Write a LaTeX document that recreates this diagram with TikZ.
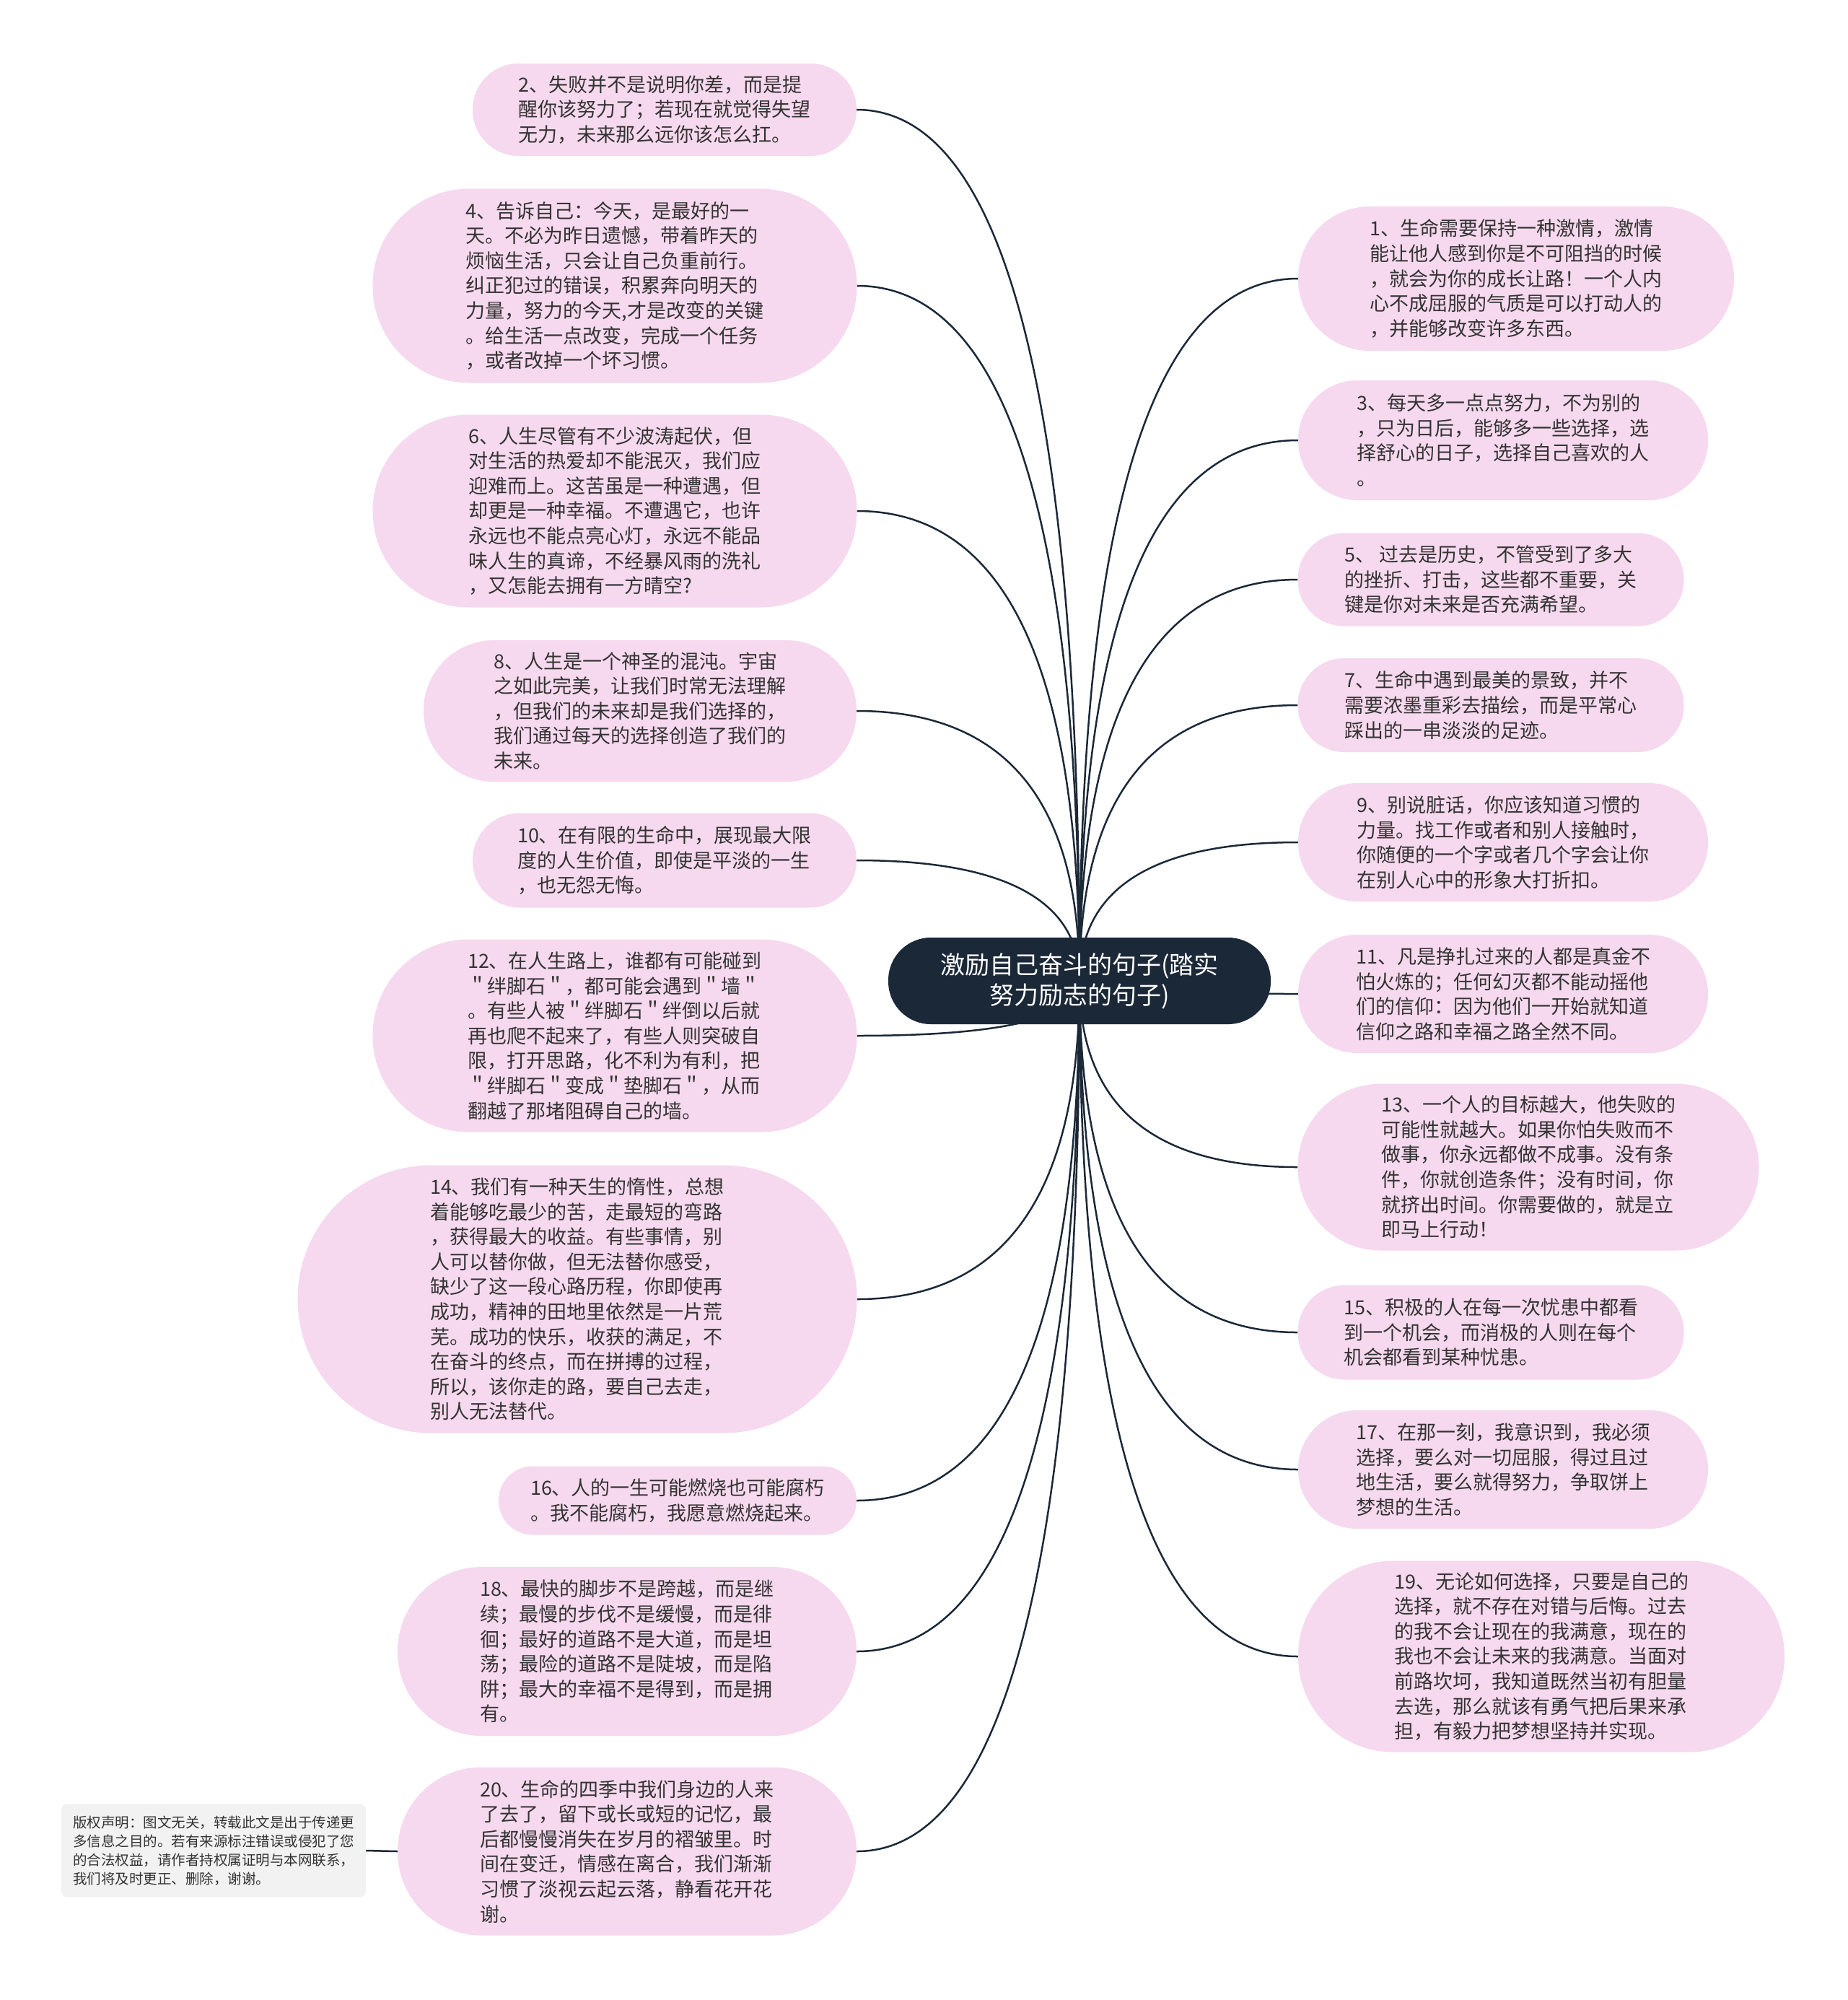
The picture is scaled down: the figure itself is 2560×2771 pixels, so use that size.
\documentclass[tikz,border=0pt]{standalone}
\usepackage{fontspec}
\setmainfont{Noto Sans CJK SC}
\usetikzlibrary{calc,backgrounds}
\definecolor{pinkfill}{HTML}{F6D9EE}
\definecolor{navy}{HTML}{1B2837}
\definecolor{txt}{HTML}{333333}
\definecolor{cpfill}{HTML}{F2F2F2}
\tikzset{
  leafbox/.style={fill=pinkfill, text=txt, align=left, inner sep=0pt,
    font=\fontsize{27}{34.6}\selectfont},
  rootbox/.style={fill=navy, text=white, align=center, inner sep=0pt,
    font=\fontsize{34}{42}\selectfont, rounded corners=59pt,
    minimum width=530pt, minimum height=120pt},
  cpbox/.style={fill=cpfill, text=txt, align=left, inner sep=0pt,
    font=\fontsize{19.5}{26}\selectfont, rounded corners=8pt,
    minimum width=422pt, minimum height=129pt},
  link/.style={draw=navy, line width=2.5pt},
}
\newcommand\mkleaf[6]{%
  \pgfmathsetmacro\rr{#5/2-0.5}%
  \node[leafbox, minimum width=#4pt, minimum height=#5pt, rounded corners=\rr pt] (#1) at (#2,#3) {#6};}
\newcommand\mklink[2]{%
  \draw[link] (#1) .. controls ($(#1)!0.667!(#1 |- #2)$) and ($(#2)!0.667!(#1 |- #2)$) .. (#2);}
\begin{document}
\begin{tikzpicture}[x=1pt,y=-1pt]
\useasboundingbox (0,0) rectangle (2560,2771);

\node[rootbox] (c) at (1496,1359) {激励自己奋斗的句子(踏实\\努力励志的句子)};

% left side
\mkleaf{n2}{921}{152}{532}{128}{2、失败并不是说明你差，而是提\\醒你该努力了；若现在就觉得失望\\无力，未来那么远你该怎么扛。}
\mkleaf{n4}{852}{396}{671}{269}{4、告诉自己：今天，是最好的一\\天。不必为昨日遗憾，带着昨天的\\烦恼生活，只会让自己负重前行。\\纠正犯过的错误，积累奔向明天的\\力量，努力的今天,才是改变的关键\\。给生活一点改变，完成一个任务\\，或者改掉一个坏习惯。}
\mkleaf{n6}{852}{708}{671}{267}{6、人生尽管有不少波涛起伏，但\\对生活的热爱却不能泯灭，我们应\\迎难而上。这苦虽是一种遭遇，但\\却更是一种幸福。不遭遇它，也许\\永远也不能点亮心灯，永远不能品\\味人生的真谛，不经暴风雨的洗礼\\，又怎能去拥有一方晴空?}
\mkleaf{n8}{887}{985}{600}{196}{8、人生是一个神圣的混沌。宇宙\\之如此完美，让我们时常无法理解\\，但我们的未来却是我们选择的，\\我们通过每天的选择创造了我们的\\未来。}
\mkleaf{n10}{921}{1192}{532}{131}{10、在有限的生命中，展现最大限\\度的人生价值，即使是平淡的一生\\，也无怨无悔。}
\mkleaf{n12}{852}{1435}{671}{267}{12、在人生路上，谁都有可能碰到\\＂绊脚石＂，都可能会遇到＂墙＂\\。有些人被＂绊脚石＂绊倒以后就\\再也爬不起来了，有些人则突破自\\限，打开思路，化不利为有利，把\\＂绊脚石＂变成＂垫脚石＂，从而\\翻越了那堵阻碍自己的墙。}
\mkleaf{n14}{800}{1800}{775}{371}{14、我们有一种天生的惰性，总想\\着能够吃最少的苦，走最短的弯路\\，获得最大的收益。有些事情，别\\人可以替你做，但无法替你感受，\\缺少了这一段心路历程，你即使再\\成功，精神的田地里依然是一片荒\\芜。成功的快乐，收获的满足，不\\在奋斗的终点，而在拼搏的过程，\\所以，该你走的路，要自己去走，\\别人无法替代。}
\mkleaf{n16}{939}{2079}{496}{95}{16、人的一生可能燃烧也可能腐朽\\。我不能腐朽，我愿意燃烧起来。}
\mkleaf{n18}{869}{2288}{636}{234}{18、最快的脚步不是跨越，而是继\\续；最慢的步伐不是缓慢，而是徘\\徊；最好的道路不是大道，而是坦\\荡；最险的道路不是陡坡，而是陷\\阱；最大的幸福不是得到，而是拥\\有。}
\mkleaf{n20}{869}{2565}{636}{233}{20、生命的四季中我们身边的人来\\了去了，留下或长或短的记忆，最\\后都慢慢消失在岁月的褶皱里。时\\间在变迁，情感在离合，我们渐渐\\习惯了淡视云起云落，静看花开花\\谢。}
\node[cpbox] (cp) at (296,2564) {版权声明：图文无关，转载此文是出于传递更\\多信息之目的。若有来源标注错误或侵犯了您\\的合法权益，请作者持权属证明与本网联系，\\我们将及时更正、删除，谢谢。};

% right side
\mkleaf{n1}{2101}{386}{604}{200}{1、生命需要保持一种激情，激情\\能让他人感到你是不可阻挡的时候\\，就会为你的成长让路！一个人内\\心不成屈服的气质是可以打动人的\\，并能够改变许多东西。}
\mkleaf{n3}{2083}{610}{568}{166}{3、每天多一点点努力，不为别的\\，只为日后，能够多一些选择，选\\择舒心的日子，选择自己喜欢的人\\。}
\mkleaf{n5}{2066}{803}{535}{129}{5、 过去是历史，不管受到了多大\\的挫折、打击，这些都不重要，关\\键是你对未来是否充满希望。}
\mkleaf{n7}{2066}{977}{535}{130}{7、生命中遇到最美的景致，并不\\需要浓墨重彩去描绘，而是平常心\\踩出的一串淡淡的足迹。}
\mkleaf{n9}{2083}{1167}{568}{164}{9、别说脏话，你应该知道习惯的\\力量。找工作或者和别人接触时，\\你随便的一个字或者几个字会让你\\在别人心中的形象大打折扣。}
\mkleaf{n11}{2083}{1377}{568}{164}{11、凡是挣扎过来的人都是真金不\\怕火炼的；任何幻灭都不能动摇他\\们的信仰：因为他们一开始就知道\\信仰之路和幸福之路全然不同。}
\mkleaf{n13}{2118}{1617}{639}{231}{13、一个人的目标越大，他失败的\\可能性就越大。如果你怕失败而不\\做事，你永远都做不成事。没有条\\件，你就创造条件；没有时间，你\\就挤出时间。你需要做的，就是立\\即马上行动！}
\mkleaf{n15}{2066}{1846}{535}{131}{15、积极的人在每一次忧患中都看\\到一个机会，而消极的人则在每个\\机会都看到某种忧患。}
\mkleaf{n17}{2083}{2036}{568}{164}{17、在那一刻，我意识到，我必须\\选择，要么对一切屈服，得过且过\\地生活，要么就得努力，争取饼上\\梦想的生活。}
\mkleaf{n19}{2136}{2295}{674}{265}{19、无论如何选择，只要是自己的\\选择，就不存在对错与后悔。过去\\的我不会让现在的我满意，现在的\\我也不会让未来的我满意。当面对\\前路坎坷，我知道既然当初有胆量\\去选，那么就该有勇气把后果来承\\担，有毅力把梦想坚持并实现。}

\begin{pgfonlayer}{background}
  \fill[white] (0,0) rectangle (2560,2771);
  \foreach \n in {n2,n4,n6,n8,n10,n12,n14,n16,n18,n20} {\mklink{c.center}{\n.east}}
  \foreach \n in {n1,n3,n5,n7,n9,n11,n13,n15,n17,n19} {\mklink{c.center}{\n.west}}
  \draw[link] (cp.east) -- (n20.west);
\end{pgfonlayer}
\end{tikzpicture}
\end{document}
